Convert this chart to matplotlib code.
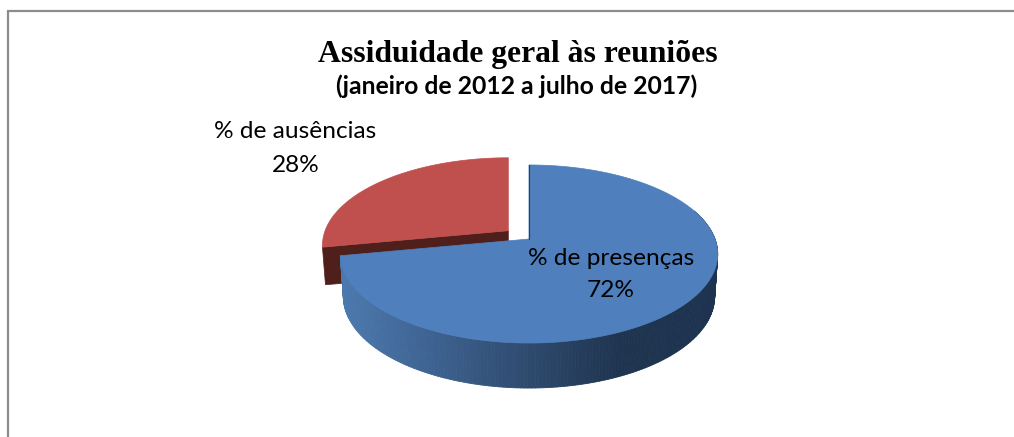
import numpy as np
import matplotlib
matplotlib.use("Agg")
import matplotlib.pyplot as plt
from matplotlib.collections import PolyCollection
from matplotlib.colors import LinearSegmentedColormap
from matplotlib.patches import Polygon

categories = ["% de presenças", "% de ausências"]
values = [72, 28]

title_main = "Assiduidade geral às reuniões"
title_sub = "(janeiro de 2012 a julho de 2017)"

BLUE_TOP = "#4f7fbc"
RED_TOP = "#c0504d"
RED_SIDE = "#4f1f1c"
FRAME = "#8c8c8c"

side_cmap = LinearSegmentedColormap.from_list(
    "blue_side", ["#4b78ad", "#3d618f", "#2e4a6e", "#1f344f", "#1d3350"])

# perspective of the disc: k shrinks the far side
K = 0.1685


def project(theta, cx, cy, a, b, scale=1.0):
    """Angle clockwise from 12 o'clock (degrees) -> pixel position on a disc rim."""
    t = np.radians(theta)
    u, v = np.sin(t), np.cos(t)
    w = 1 + K * v
    return cx + scale * a * u / w, cy - scale * b * v / w


def top_rim(theta):
    return project(theta, 529, 239, 186, 86.5)


def bottom_rim(theta):
    return project(theta, 529, 281, 183, 89)


fig = plt.figure(figsize=(10.14, 4.37), dpi=100)
ax = fig.add_axes([0, 0, 1, 1])
ax.set_xlim(0, 1014)
ax.set_ylim(437, 0)
ax.axis("off")

# frame, open on the right and at the bottom
ax.plot([8, 8, 1014], [437, 11, 11], color=FRAME, lw=1.6, solid_joinstyle="miter")

total = sum(values)
blue_end = 360 * values[0] / total

# exploded slice: same disc, shifted and slightly smaller
red_dx, red_dy, red_scale = -20.7, -8.3, 0.985
red_t = np.linspace(blue_end, 360, 80)
rx, ry = project(red_t, 529 + red_dx, 239 + red_dy, 186, 86.5, red_scale)
apex_r = (529 + red_dx, 239 + red_dy)
bx0, by0 = project(blue_end, 529 + red_dx, 276 + red_dy, 183, 89, red_scale)

# only the cut face of the red slice shows; the blue slice hides most of it
ax.add_patch(Polygon([(rx[0], ry[0]), apex_r, (apex_r[0], apex_r[1] + 40), (bx0, by0)],
                     closed=True, fc=RED_SIDE, ec=RED_SIDE, lw=0.5, zorder=2))
ax.add_patch(Polygon(np.r_[[apex_r], np.c_[rx, ry]], closed=True,
                     fc=RED_TOP, ec=RED_TOP, lw=0.5, zorder=3))

# blue outer wall, shaded strip by strip
theta = np.linspace(70, blue_end, 200)
tx, ty = top_rim(theta)
bx, by = bottom_rim(theta)
quads = [[(tx[i], ty[i]), (tx[i + 1], ty[i + 1]), (bx[i + 1], by[i + 1]), (bx[i], by[i])]
         for i in range(len(theta) - 1)]
shade = (tx[:-1] - 345) / (715 - 345)
ax.add_collection(PolyCollection(quads, array=np.clip(shade, 0, 1), cmap=side_cmap,
                                 edgecolors="face", linewidths=0.6, zorder=4))

# blue top face
top_t = np.linspace(0, blue_end, 200)
px, py = top_rim(top_t)
ax.add_patch(Polygon(np.r_[[(529, 239)], np.c_[px, py]], closed=True,
                     fc=BLUE_TOP, ec=BLUE_TOP, lw=0.5, zorder=5))
ax.plot([529, 529], [165, 239], color="#24405f", lw=0.8, zorder=6)

# titles
ax.text(517.5, 62, title_main, family="Liberation Serif", weight="bold", fontsize=22.8,
        ha="center", va="baseline", color="black")
ax.text(516.7, 93.5, title_sub, family="Lato", weight="bold", fontsize=17.8,
        ha="center", va="baseline", color="black")

# slice labels
label_style = dict(family="Lato", fontsize=17.6, ha="center", va="baseline", zorder=7)
ax.text(611, 265, categories[0], **label_style)
ax.text(611, 297, f"{values[0]}%", **label_style)
ax.text(295.5, 138, categories[1], **label_style)
ax.text(295.5, 172, f"{values[1]}%", **label_style)

fig.savefig("out.png", dpi=100)
